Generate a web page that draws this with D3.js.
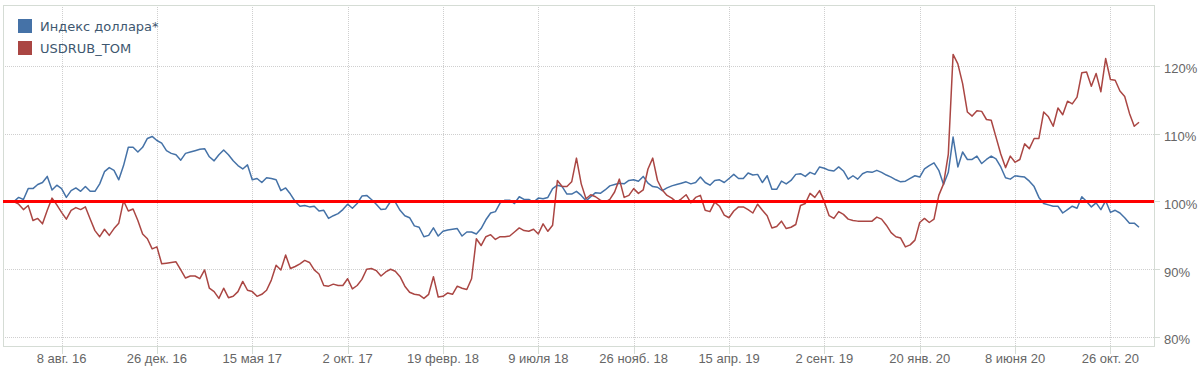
<!DOCTYPE html>
<html>
<head>
<meta charset="utf-8">
<script src="https://cdnjs.cloudflare.com/ajax/libs/d3/7.8.5/d3.min.js"></script>
<style>
    body { margin: 0; background: #fff; }
    svg { display: block; }
    .tickLabel { font-family: "Liberation Sans", Arial, sans-serif; font-size: 13px; fill: #666; }
    .legendText { font-family: "DejaVu Sans", Verdana, sans-serif; font-size: 13px; fill: #3e576f; }
</style>
</head>
<body>
<div id="chart"></div>
<script>
/* Dollar index vs USDRUB_TOM, weekly, % of the first value */

// weekly points start here
const startDate = "2016-05-30";

const dollarIndex = [
    100.0, 100.6, 100.3, 101.9, 101.9, 102.5, 102.8, 103.7, 101.7, 102.4,
    101.9, 100.6, 101.6, 102.0, 101.5, 102.2, 101.5, 101.5, 102.6, 104.4,
    105.0, 104.6, 103.2, 105.3, 108.0, 108.0, 107.3, 108.0, 109.3, 109.6,
    109.0, 108.6, 107.5, 107.1, 106.9, 106.1, 107.1, 107.3, 107.5, 107.7,
    107.8, 106.6, 106.0, 106.9, 107.6, 106.9, 106.0, 105.3, 104.8, 105.4,
    103.2, 103.4, 102.8, 103.5, 103.4, 103.2, 101.6, 102.0, 101.1, 100.0,
    99.3, 99.4, 99.2, 99.3, 98.6, 98.7, 97.5, 97.9, 98.2, 98.8,
    99.6, 99.0, 99.7, 100.8, 100.9, 100.3, 99.6, 98.8, 98.9, 100.0,
    99.9, 98.7, 97.9, 97.6, 96.4, 96.2, 94.8, 95.0, 96.1, 94.9,
    95.6, 95.8, 95.9, 96.0, 94.9, 95.5, 95.5, 95.2, 96.0, 97.3,
    98.3, 98.5, 99.8, 100.2, 100.2, 99.7, 100.7, 100.3, 100.3, 99.9,
    100.5, 100.4, 100.6, 101.9, 102.4, 102.2, 101.1, 101.1, 101.5, 100.9,
    100.1, 100.7, 101.3, 101.2, 101.7, 102.3, 102.5, 102.7, 102.6, 103.1,
    103.2, 103.0, 103.7, 102.7, 102.2, 102.1, 101.6, 102.0, 102.3, 102.5,
    102.7, 102.9, 102.6, 102.8, 103.6, 102.8, 102.4, 103.1, 103.2, 102.8,
    103.4, 104.0, 103.4, 103.4, 104.2, 103.9, 104.0, 102.8, 103.8, 101.8,
    101.8, 103.0, 102.6, 103.1, 104.0, 104.1, 103.7, 104.3, 104.0, 105.1,
    104.9, 104.6, 104.5, 105.1, 104.5, 103.3, 103.8, 103.3, 104.1, 104.4,
    104.3, 104.6, 104.3, 103.9, 103.6, 103.2, 102.9, 103.0, 103.4, 103.8,
    103.6, 104.8, 105.3, 105.7, 104.6, 102.5, 104.3, 109.5, 105.1, 107.3,
    106.2, 106.2, 106.7, 105.6, 106.2, 106.7, 106.3, 105.1, 103.5, 103.3,
    103.8, 103.7, 103.6, 103.0, 102.2, 100.6, 99.7, 99.5, 99.3, 99.3,
    98.3, 98.8, 99.3, 99.0, 100.7, 100.0, 99.2, 99.8, 98.8, 100.1,
    98.4, 98.7, 98.3, 97.6, 96.8, 96.8, 96.2
];

const usdRub = [
    100.0, 99.6, 98.8, 99.4, 97.2, 97.5, 96.7, 98.7, 100.5, 99.5,
    98.4, 97.4, 98.7, 99.1, 98.8, 99.2, 97.4, 95.7, 94.8, 95.9,
    95.0, 96.0, 96.8, 100.1, 98.6, 98.9, 97.2, 95.2, 94.5, 93.0,
    93.3, 90.8, 90.9, 91.0, 91.1, 89.9, 88.7, 89.0, 89.0, 88.6,
    89.9, 87.2, 86.7, 85.7, 87.2, 85.8, 86.0, 86.7, 88.2, 86.9,
    86.7, 86.0, 86.3, 86.9, 88.4, 90.6, 89.9, 92.1, 90.1, 90.4,
    90.8, 91.3, 91.0, 89.9, 89.3, 87.6, 87.5, 87.8, 87.6, 87.6,
    88.6, 87.1, 87.6, 88.5, 90.0, 90.1, 89.8, 89.0, 89.6, 90.0,
    89.7, 88.9, 87.5, 86.6, 86.3, 86.2, 85.7, 86.3, 88.9, 85.9,
    86.0, 86.5, 86.3, 87.5, 87.2, 87.0, 88.6, 94.5, 93.5, 94.8,
    95.1, 94.4, 94.8, 94.8, 94.9, 95.5, 96.1, 95.7, 95.6, 95.9,
    95.2, 96.7, 95.6, 96.5, 103.1, 102.2, 102.2, 102.9, 106.4, 102.6,
    100.4, 101.0, 100.7, 100.2, 99.9, 100.3, 101.4, 103.3, 100.6, 100.9,
    101.9, 101.2, 101.7, 104.8, 106.4, 103.1, 101.7, 100.9, 100.5, 99.9,
    100.4, 101.0, 99.8, 100.6, 100.9, 98.7, 98.5, 99.9, 99.3, 98.0,
    97.6, 98.6, 99.2, 99.2, 98.8, 98.3, 99.6, 98.7, 97.9, 96.1,
    96.3, 97.1, 96.0, 96.2, 96.6, 99.4, 99.7, 101.2, 100.6, 101.6,
    99.9, 97.9, 97.5, 98.5, 98.1, 97.4, 97.2, 97.1, 97.1, 97.1,
    97.1, 97.7, 97.4, 96.5, 95.4, 94.8, 94.6, 93.3, 93.6, 94.3,
    96.9, 97.5, 96.9, 97.4, 100.9, 102.6, 107.0, 121.7, 120.3, 117.4,
    113.2, 112.6, 113.4, 113.3, 112.1, 112.0, 109.5, 107.0, 105.0, 106.7,
    105.8, 106.2, 108.5, 107.8, 109.3, 109.3, 113.2, 112.5, 111.1, 113.8,
    112.8, 114.8, 114.4, 115.4, 119.0, 119.1, 117.0, 118.9, 116.2, 121.1,
    118.0, 117.9, 116.3, 115.5, 113.0, 111.1, 111.7
];

const seriesNames = ["Индекс доллара*", "USDRUB_TOM"];
const seriesColors = ["#4572a7", "#aa4643"];

const xTickDates = ["2016-08-08", "2016-12-26", "2017-05-15", "2017-10-02", "2018-02-19", "2018-07-09",
    "2018-11-26", "2019-04-15", "2019-09-02", "2020-01-20", "2020-06-08", "2020-10-26"];
const xTickLabels = ["8 авг. 16", "26 дек. 16", "15 мая 17", "2 окт. 17", "19 февр. 18", "9 июля 18",
    "26 нояб. 18", "15 апр. 19", "2 сент. 19", "20 янв. 20", "8 июня 20", "26 окт. 20"];
const yTicks = [80, 90, 100, 110, 120];
const baseLevel = 100;

// plot area
let plot = {left: 3, right: 1154, top: 5, bottom: 346};
let width = 1200, height = 377;

let parseDate = d3.timeParse("%Y-%m-%d");
let start = parseDate(startDate);
let dates = dollarIndex.map((d, i) => d3.timeWeek.offset(start, i));

let svg = d3.select("#chart").append("svg")
    .attr("width", width)
    .attr("height", height);

let x = d3.scaleTime()
    .domain([parseDate("2016-05-14"), parseDate("2020-12-29")])
    .range([plot.left, plot.right]);

let y = d3.scaleLinear()
    .domain([78.67, 129.0])
    .range([plot.bottom, plot.top]);

// horizontal grid
svg.selectAll(".hGrid")
    .data(yTicks)
    .enter()
    .append("line")
    .attr("class", "hGrid")
    .attr("x1", plot.left)
    .attr("x2", plot.right)
    .attr("y1", d => Math.round(y(d)) + 0.5)
    .attr("y2", d => Math.round(y(d)) + 0.5)
    .attr("stroke", "#cfcfcf")
    .attr("stroke-dasharray", "1,1");

// vertical grid + ticks below the frame
svg.selectAll(".vGrid")
    .data(xTickDates)
    .enter()
    .append("line")
    .attr("class", "vGrid")
    .attr("x1", d => Math.round(x(parseDate(d))) + 0.5)
    .attr("x2", d => Math.round(x(parseDate(d))) + 0.5)
    .attr("y1", plot.top)
    .attr("y2", plot.bottom)
    .attr("stroke", "#cfcfcf")
    .attr("stroke-dasharray", "1,1");

svg.selectAll(".xTick")
    .data(xTickDates)
    .enter()
    .append("line")
    .attr("class", "xTick")
    .attr("x1", d => Math.round(x(parseDate(d))) + 0.5)
    .attr("x2", d => Math.round(x(parseDate(d))) + 0.5)
    .attr("y1", plot.bottom)
    .attr("y2", plot.bottom + 8)
    .attr("stroke", "#d5dcd5");

svg.selectAll(".yTick")
    .data(yTicks)
    .enter()
    .append("line")
    .attr("class", "yTick")
    .attr("x1", plot.right)
    .attr("x2", plot.right + 6)
    .attr("y1", d => Math.round(y(d)) + 0.5)
    .attr("y2", d => Math.round(y(d)) + 0.5)
    .attr("stroke", "#d5dcd5");

// frame
svg.append("rect")
    .attr("x", plot.left + 0.5)
    .attr("y", plot.top + 0.5)
    .attr("width", plot.right - plot.left)
    .attr("height", plot.bottom - plot.top)
    .attr("fill", "none")
    .attr("stroke", "#d5dcd5");

// labels
svg.selectAll(".xLabel")
    .data(xTickDates)
    .enter()
    .append("text")
    .attr("class", "tickLabel")
    .attr("x", d => x(parseDate(d)))
    .attr("y", 363)
    .attr("text-anchor", "middle")
    .text((d, i) => xTickLabels[i]);

svg.selectAll(".yLabel")
    .data(yTicks)
    .enter()
    .append("text")
    .attr("class", "tickLabel")
    .attr("x", 1164)
    .attr("y", d => y(d) + 7.5)
    .text(d => d + "%");

// series lines
let line = d3.line()
    .x((d, i) => x(dates[i]))
    .y(d => y(d));

[dollarIndex, usdRub].forEach((series, k) => {
    svg.append("path")
        .datum(series)
        .attr("d", line)
        .attr("fill", "none")
        .attr("stroke", seriesColors[k])
        .attr("stroke-width", 1.5)
        .attr("stroke-linejoin", "round");
});

// 100% level
svg.append("line")
    .attr("x1", plot.left)
    .attr("x2", plot.right)
    .attr("y1", y(baseLevel))
    .attr("y2", y(baseLevel))
    .attr("stroke", "#ff0000")
    .attr("stroke-width", 3);

// legend
let legend = svg.selectAll(".legendItem")
    .data(seriesNames)
    .enter()
    .append("g")
    .attr("class", "legendItem")
    .attr("transform", (d, i) => `translate(18, ${19 + i * 22})`);

legend.append("rect")
    .attr("width", 14)
    .attr("height", 14)
    .attr("fill", (d, i) => seriesColors[i]);

legend.append("text")
    .attr("class", "legendText")
    .attr("x", 22)
    .attr("y", 12)
    .text(d => d);
</script>
</body>
</html>
